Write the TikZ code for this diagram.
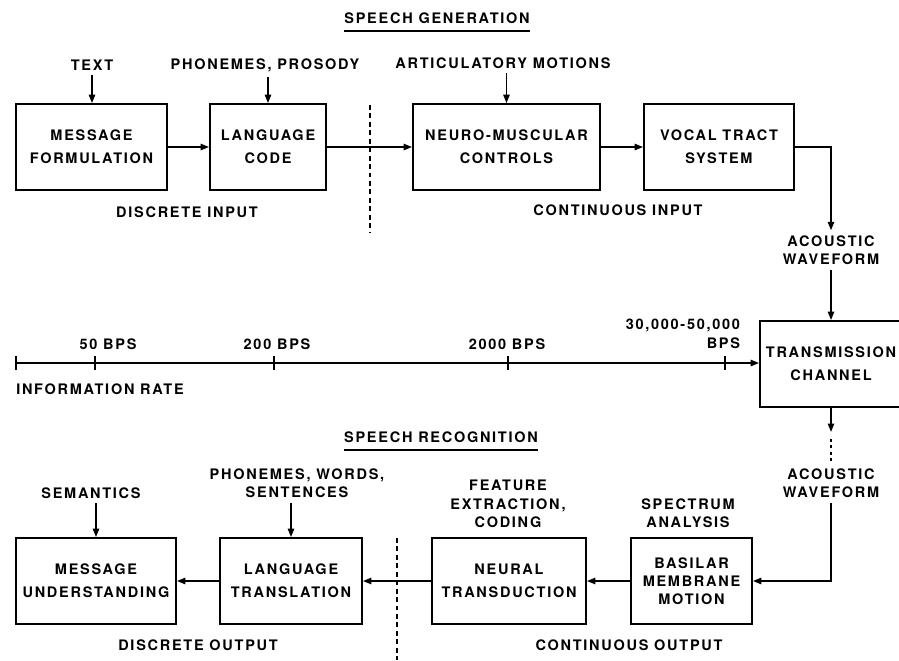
\documentclass[tikz,border=0pt]{standalone}
\usepackage{fontspec}
\newfontfamily\capsfont[LetterSpace=12]{TeX Gyre Heros}
\usetikzlibrary{arrows.meta,positioning,calc}

\tikzset{
  block/.style={draw, line width=1.3pt, minimum height=2.15cm, align=center,
    font={\capsfont\bfseries\fontsize{10.3}{16.3}\selectfont}},
  tightblock/.style={block, font={\capsfont\bfseries\fontsize{10.3}{12.8}\selectfont}},
  caption/.style={align=center, font={\capsfont\bfseries\fontsize{10.3}{13.2}\selectfont}},
  heading/.style={caption, inner xsep=0pt},
  rule/.style={line width=1.3pt},
  flow/.style={-{Triangle[length=6pt,width=4.5pt]}, line width=1.2pt},
  cut/.style={line width=1pt, dash pattern=on 3.5pt off 2.5pt},
  dots/.style={line width=2pt, dash pattern=on 2pt off 2.5pt},
  tickmark/.style={line width=1.1pt},
}

\begin{document}
\begin{tikzpicture}[x=0.025cm, y=-0.025cm]
  \useasboundingbox (0,0) rectangle (899,660);
  \clip (0,0) rectangle (899,660);

  % speech generation
  \node[heading] (gen) at (437,18) {SPEECH GENERATION};
  \draw[rule] ([yshift=-2pt]gen.south west) -- ([yshift=-2pt]gen.south east);

  \node[block, minimum width=3.775cm] (mf) at (91.5,147) {MESSAGE\\FORMULATION};
  \node[block, minimum width=2.9cm] (lc) at (268,147) {LANGUAGE\\CODE};
  \node[block, minimum width=4.675cm] (nm) at (506.5,147) {NEURO-MUSCULAR\\CONTROLS};
  \node[block, minimum width=3.75cm] (vt) at (719,147) {VOCAL TRACT\\SYSTEM};

  \node[caption] (text) at (92,65) {TEXT};
  \node[caption] (pros) at (265,65) {PHONEMES, PROSODY};
  \node[caption] (artic) at (503,63) {ARTICULATORY MOTIONS};
  \node[caption] (dinput) at (187,212) {DISCRETE INPUT};
  \node[caption] (cinput) at (618,210) {CONTINUOUS INPUT};
  \node[caption] (wave1) at (831,250) {ACOUSTIC\\WAVEFORM};

  \draw[flow] (text) -- (text |- mf.north);
  \draw[flow] (lc.north |- pros.south) -- (lc.north);
  \draw[flow] (nm.north |- artic.south) -- (nm.north);
  \draw[flow] (mf) -- (lc);
  \draw[flow] (lc) -- (nm);
  \draw[flow] (nm) -- (vt);
  \draw[flow] (vt.east) -| (wave1.north);

  \coordinate (cut1) at (370,105);
  \coordinate (cut1end) at (370,233);
  \draw[cut] (cut1) -- (cut1end);

  % channel
  \node[block, minimum width=3.55cm] (tc) at (831,364) {TRANSMISSION\\CHANNEL};
  \draw[flow] (wave1.south) -- (wave1.south |- tc.north);

  % information rate
  \coordinate (rate0) at (16,363);
  \draw[flow] (rate0) -- (rate0 -| tc.west);
  \draw[tickmark] (16,356) -- (16,370);
  \foreach \x/\lx/\lab in {95/108/50 BPS, 274/277/200 BPS, 508/507/2000 BPS} {
    \draw[tickmark] (\x,356) -- (\x,370);
    \node[caption] (bps\x) at (\lx,344) {\lab};
  }
  \draw[tickmark] (725,356) -- (725,370);
  \node[caption, align=right, anchor=east] (bpsmax) at (745,334) {30,000-50,000\\BPS};
  \node[caption, anchor=west, inner xsep=0pt] (rate) at (16,389) {INFORMATION RATE};

  % speech recognition
  \node[heading] (rec) at (441,437) {SPEECH RECOGNITION};
  \draw[rule] ([yshift=-2pt]rec.south west) -- ([yshift=-2pt]rec.south east);

  \coordinate (tcout) at (831,432);
  \node[caption] (wave2) at (831,483) {ACOUSTIC\\WAVEFORM};
  \draw[flow] (tc.south) -- (tcout);
  \draw[dots] ([yshift=-5pt]tcout) -- (wave2.north);

  \node[tightblock, minimum width=3.025cm] (bmm) at (691.5,581) {BASILAR\\MEMBRANE\\MOTION};
  \node[block, minimum width=3.85cm] (nt) at (509,581) {NEURAL\\TRANSDUCTION};
  \node[block, minimum width=3.55cm] (lt) at (291,581) {LANGUAGE\\TRANSLATION};
  \node[block, minimum width=4cm] (mu) at (96,581) {MESSAGE\\UNDERSTANDING};

  \node[caption] (sem) at (91,493) {SEMANTICS};
  \node[caption] (pws) at (297,483) {PHONEMES, WORDS,\\SENTENCES};
  \node[caption] (feat) at (508,504) {FEATURE\\EXTRACTION,\\CODING};
  \node[caption] (spec) at (688,513) {SPECTRUM\\ANALYSIS};
  \node[caption] (doutput) at (198,645) {DISCRETE OUTPUT};
  \node[caption] (coutput) at (629,645) {CONTINUOUS OUTPUT};

  \draw[flow] (mu.north |- sem.south) -- (mu.north);
  \draw[flow] (lt.north |- pws.south) -- (lt.north);
  \draw[flow] (wave2.south) |- (bmm.east);
  \draw[flow] (bmm) -- (nt);
  \draw[flow] (nt) -- (lt);
  \draw[flow] (lt) -- (mu);

  \coordinate (cut2) at (397,538);
  \coordinate (cut2end) at (397,660);
  \draw[cut] (cut2) -- (cut2end);
\end{tikzpicture}
\end{document}
